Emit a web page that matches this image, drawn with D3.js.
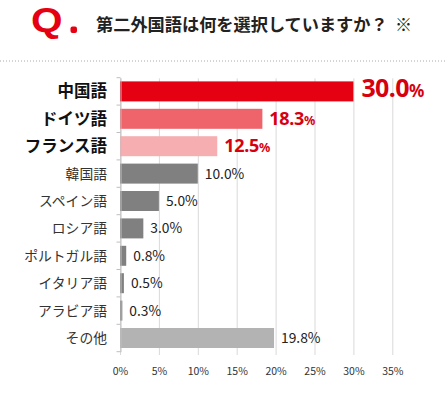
<!DOCTYPE html>
<html><head><meta charset="utf-8">
<script src="https://cdn.jsdelivr.net/npm/d3@7"></script>
<style>
html,body{margin:0;padding:0;background:#fff;}
svg{display:block;font-family:"Noto Sans CJK JP","Noto Sans",sans-serif;}
</style></head>
<body>
<svg id="c" width="447" height="393"></svg>
<script>
const categories = ["中国語","ドイツ語","フランス語","韓国語","スペイン語","ロシア語","ポルトガル語","イタリア語","アラビア語","その他"];
const values = [30.0,18.3,12.5,10.0,5.0,3.0,0.8,0.5,0.3,19.8];
const barColors = ["#e50012","#ef636a","#f7aeb1","#808080","#808080","#808080","#808080","#808080","#808080","#b3b3b3"];
const xTicks = [0,5,10,15,20,25,30,35];
const titleText = "第二外国語は何を選択していますか？";

const svg = d3.select("#c");
const W = 447, H = 393;
const x = d3.scaleLinear().domain([0,35]).range([120, 392.3]);
const y = d3.scaleBand().domain(categories).range([77.7, 351.7]).paddingInner(0.27).paddingOuter(0.135);

// Title
svg.append("text").attr("transform","translate(31,32) scale(1.16,1)").attr("fill","#e50012")
  .attr("font-family","Liberation Sans, Arial, sans-serif").attr("font-weight","bold").attr("font-size",35).text("Q");
svg.append("rect").attr("x",70.5).attr("y",26.5).attr("width",6.5).attr("height",6.5).attr("rx",2).attr("fill","#e50012");
svg.append("text").attr("x",96).attr("y",31).attr("fill","#222").attr("font-weight","bold").attr("font-size",17.2).text(titleText);
svg.append("text").attr("x",395).attr("y",31).attr("fill","#222").attr("font-weight","bold").attr("font-size",17).text("※");

// Dotted line
svg.append("line").attr("x1",0).attr("x2",W).attr("y1",61).attr("y2",61)
  .attr("stroke","#aaa").attr("stroke-width",1).attr("stroke-dasharray","1,2");

// Gridlines
const gx = d3.axisBottom(x).tickValues(xTicks).tickSize(-(351.7-75)).tickFormat(d=>d+"%").tickPadding(13);
const gAxis = svg.append("g").attr("transform","translate(0,355)").call(gx);
gAxis.select(".domain").remove();
gAxis.selectAll(".tick line").attr("stroke","#d9d9d9").attr("stroke-width",1);
gAxis.selectAll(".tick text").attr("fill","#333").attr("font-size",10.5).attr("font-family","Noto Sans CJK JP, sans-serif");

// Bars
svg.append("g").selectAll("rect").data(categories).join("rect")
  .attr("x", x(0)).attr("y", d=>y(d))
  .attr("width", (d,i)=>x(values[i])-x(0)).attr("height", y.bandwidth())
  .attr("fill", (d,i)=>barColors[i]);

// Left axis
const ya = d3.axisLeft(y).tickSize(0).tickFormat("");
const yAxis = svg.append("g").attr("transform","translate(120.5,0)").call(ya);
yAxis.select(".domain").attr("stroke","#bfbfbf");
const bounds = d3.range(categories.length+1).map(i=>77.7 + i*y.step());
svg.append("g").selectAll("line").data(bounds).join("line")
  .attr("x1",116.5).attr("x2",120.5).attr("y1",d=>d).attr("y2",d=>d)
  .attr("stroke","#bfbfbf");

// Category labels
const catStyle = i => i<3 ? {size:16.5,weight:"bold",fill:"#111"} : {size:13.8,weight:"normal",fill:"#333"};
svg.append("g").selectAll("text").data(categories).join("text")
  .attr("x",107).attr("y",d=>y(d)+y.bandwidth()/2)
  .attr("dy","0.36em").attr("text-anchor","end")
  .attr("font-size",(d,i)=>catStyle(i).size).attr("font-weight",(d,i)=>catStyle(i).weight)
  .attr("fill",(d,i)=>catStyle(i).fill).text(d=>d);

// Value labels
const vl = svg.append("g");
categories.forEach((c,i)=>{
  const t = vl.append("text").attr("x", x(values[i]) + (i===0?8:7))
    .attr("y", y(c)+y.bandwidth()/2).attr("dy","0.36em");
  if(i<3){
    const big = i===0?25:18, small = i===0?17:12.5;
    t.attr("fill","#d7000f").attr("font-weight","bold")
     .attr("font-family","Noto Sans, sans-serif").attr("letter-spacing",i===0?-0.6:-0.3);
    t.append("tspan").attr("font-size",big).text(values[i].toFixed(1));
    t.append("tspan").attr("font-size",small).text("%");
  } else {
    t.attr("fill","#222").attr("font-size",13.8).text(values[i].toFixed(1)+"%");
  }
});
</script>
</body></html>
